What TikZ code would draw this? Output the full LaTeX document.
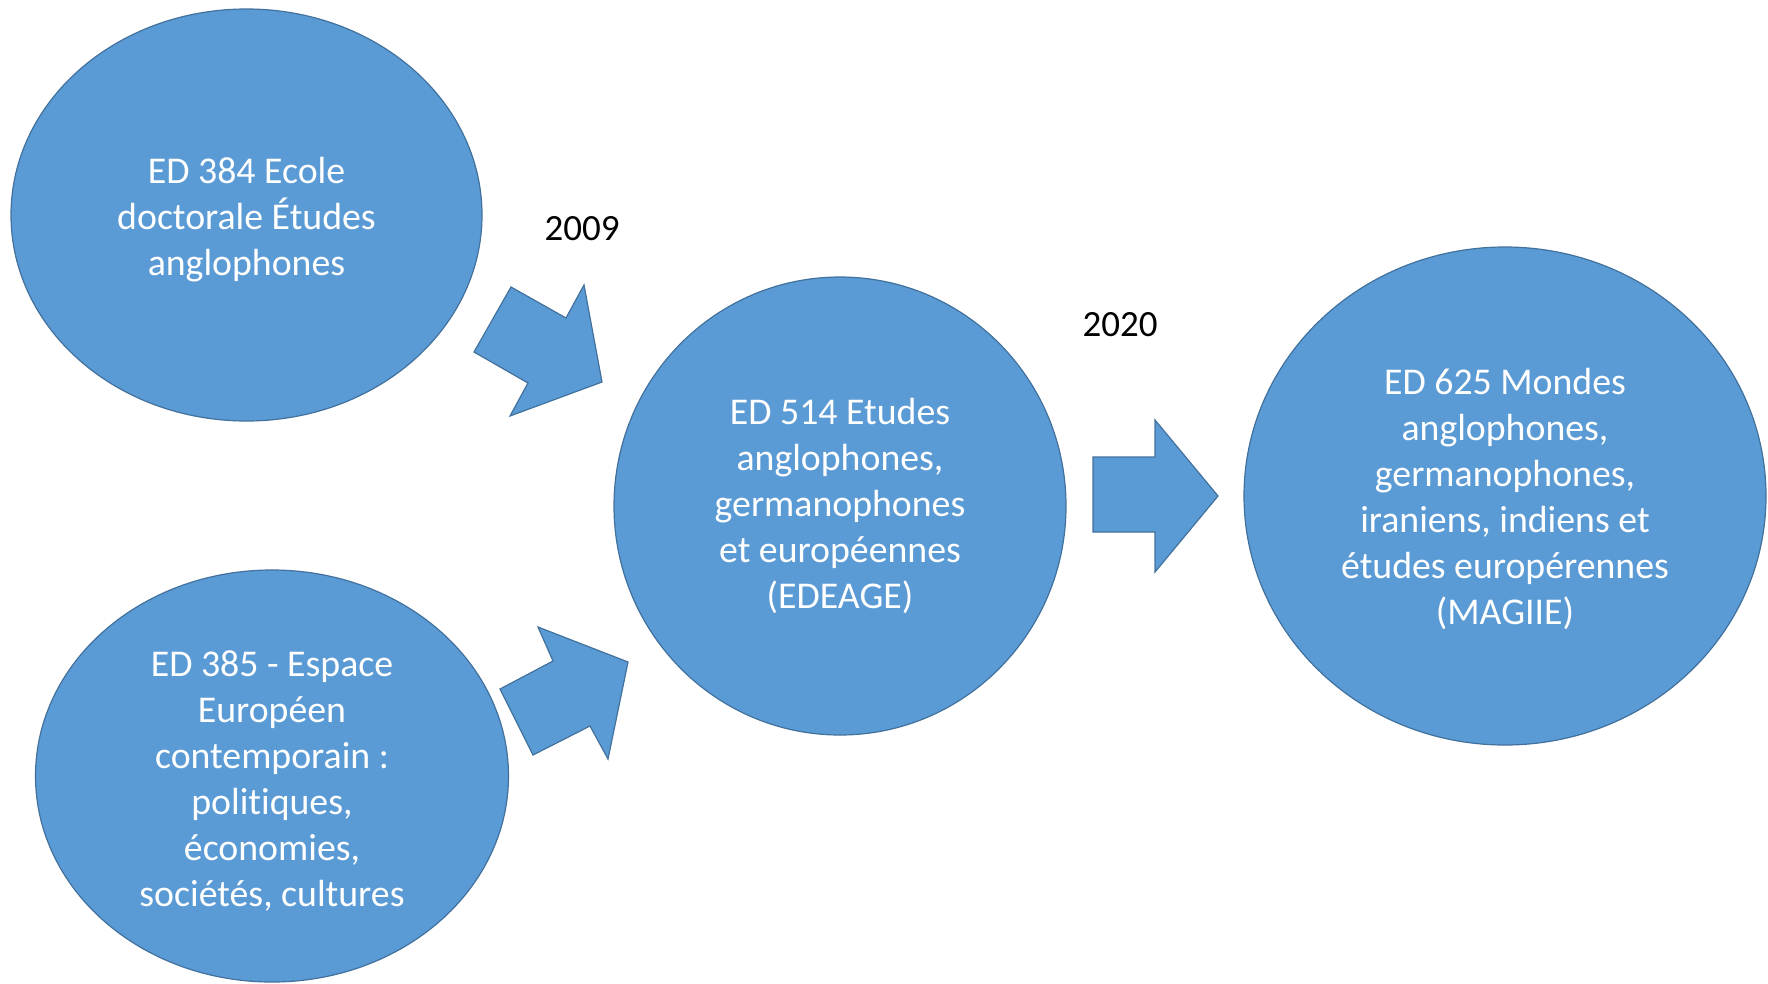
\documentclass[tikz,border=0pt]{standalone}
\usepackage{fontspec}
\setmainfont{Carlito}[Ligatures=NoCommon]
\usetikzlibrary{shapes.geometric}
\definecolor{blobfill}{HTML}{5B9BD5}
\definecolor{blobline}{HTML}{41719C}
\tikzset{
  blob/.style={ellipse, fill=blobfill, draw=blobline, line width=1.2pt, inner sep=0pt},
  blobtext/.style={text=white, align=center, inner sep=0pt, font=\fontsize{37.8}{46}\selectfont},
  blockarrow/.style={fill=blobfill, draw=blobline, line width=1.2pt, line join=miter},
  yearlabel/.style={text=black, font=\fontsize{37}{44}\selectfont, inner sep=0pt}
}
\begin{document}
\begin{tikzpicture}[x=1pt,y=-1pt]
\useasboundingbox (0,0) rectangle (1768,983);
\node[blob, minimum width=471pt, minimum height=412pt] (ed384) at (246.5,215) {};
\node[blob, minimum width=473pt, minimum height=412pt] (ed385) at (272,776) {};
\node[blob, minimum width=452pt, minimum height=458pt] (ed514) at (840,506) {};
\node[blob, minimum width=522pt, minimum height=498pt] (ed625) at (1505,496) {};
\node[blobtext] (ed384t) at ([yshift=-4.5pt]ed384.center)
  {ED 384 Ecole\\doctorale Études\\anglophones};
\node[blobtext] (ed385t) at ([yshift=-4.5pt]ed385.center)
  {ED 385 - Espace\\Européen\\contemporain :\\politiques,\\économies,\\sociétés, cultures};
\node[blobtext] (ed514t) at (ed514.center)
  {ED 514 Etudes\\anglophones,\\germanophones\\et européennes\\(EDEAGE)};
\node[blobtext] (ed625t) at ([yshift=-2.5pt]ed625.center)
  {ED 625 Mondes\\anglophones,\\germanophones,\\iraniens, indiens et\\études europérennes\\(MAGIIE)};
% block arrows
\draw[blockarrow] (511,287) -- (566,318) -- (584,285) -- (602,382) -- (510,416) -- (528,383) -- (474,352) -- cycle;
\draw[blockarrow] (500,689) -- (553,661) -- (538,627) -- (628,662) -- (608,759) -- (590,726) -- (533,755) -- cycle;
\draw[blockarrow] (1093,457) -- (1155,457) -- (1155,420) -- (1218,496) -- (1155,572) -- (1155,532) -- (1093,532) -- cycle;
% years
\node[yearlabel] (y2009) at (582,229) {2009};
\node[yearlabel] (y2020) at (1120,325) {2020};
\end{tikzpicture}
\end{document}
